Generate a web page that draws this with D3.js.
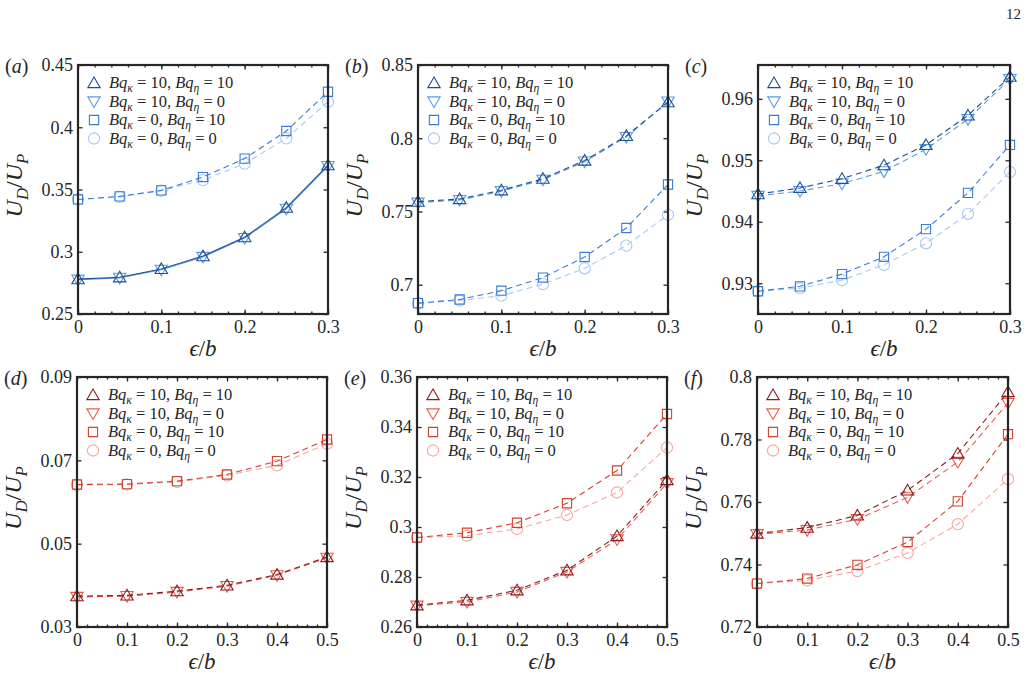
<!DOCTYPE html>
<html>
<head>
<meta charset="utf-8">
<script src="https://cdn.jsdelivr.net/npm/d3@7"></script>
</head>
<body style="margin:0">
<svg id="canvas" width="1028" height="685"></svg>
<script>
// x values (eps/b)
const xTop = [0, 0.05, 0.1, 0.15, 0.2, 0.25, 0.3];
const xBottom = [0, 0.1, 0.2, 0.3, 0.4, 0.5];
const xTicksTop = [0, 0.1, 0.2, 0.3];
const xTicksBottom = [0, 0.1, 0.2, 0.3, 0.4, 0.5];

// series order: [Bqk=10,Bqe=10], [Bqk=10,Bqe=0], [Bqk=0,Bqe=10], [Bqk=0,Bqe=0]
const aUp = [0.278, 0.2795, 0.2862, 0.2965, 0.3117, 0.3354, 0.3695];
const aDown = [0.2775, 0.2790, 0.2855, 0.2958, 0.3110, 0.3345, 0.3688];
const aSquare = [0.342, 0.3445, 0.3493, 0.360, 0.3748, 0.397, 0.4285];
const aCircle = [0.342, 0.344, 0.349, 0.3575, 0.3708, 0.391, 0.4205];

const bUp = [0.7567, 0.7585, 0.7645, 0.7724, 0.7848, 0.8016, 0.8246];
const bDown = [0.7560, 0.7578, 0.7638, 0.7716, 0.7840, 0.8008, 0.8250];
const bSquare = [0.6874, 0.6899, 0.6959, 0.7049, 0.7189, 0.7387, 0.7684];
const bCircle = [0.6872, 0.6892, 0.6925, 0.7004, 0.7112, 0.7267, 0.7477];

const cUp = [0.9445, 0.9455, 0.9470, 0.9492, 0.9525, 0.9573, 0.9636];
const cDown = [0.9442, 0.9450, 0.9462, 0.9482, 0.9518, 0.9567, 0.9632];
const cSquare = [0.9287, 0.9295, 0.9315, 0.9343, 0.9388, 0.9447, 0.9525];
const cCircle = [0.9287, 0.9292, 0.9305, 0.9330, 0.9365, 0.9413, 0.9481];

const dUp = [0.0374, 0.0376, 0.0386, 0.0400, 0.0426, 0.0468];
const dDown = [0.0372, 0.0374, 0.0384, 0.0398, 0.0424, 0.0466];
const dSquare = [0.0642, 0.0643, 0.0650, 0.0666, 0.0698, 0.0750];
const dCircle = [0.0641, 0.0642, 0.0648, 0.0664, 0.0688, 0.0740];

const eUp = [0.2687, 0.2707, 0.2747, 0.2827, 0.2964, 0.3188];
const eDown = [0.2685, 0.2700, 0.2740, 0.2820, 0.2950, 0.3175];
const eSquare = [0.2958, 0.2977, 0.3017, 0.3095, 0.3226, 0.3452];
const eCircle = [0.2958, 0.2965, 0.2992, 0.3048, 0.3138, 0.3318];

const fUp = [0.7499, 0.7518, 0.7557, 0.7637, 0.7755, 0.7952];
const fDown = [0.7497, 0.7510, 0.7545, 0.7615, 0.7728, 0.7917];
const fSquare = [0.7339, 0.7355, 0.7399, 0.7472, 0.7602, 0.7817];
const fCircle = [0.7339, 0.7349, 0.7379, 0.7437, 0.7529, 0.7673];

const yTicksA = [0.25, 0.3, 0.35, 0.4, 0.45];
const yTicksB = [0.7, 0.75, 0.8, 0.85];
const yTicksC = [0.93, 0.94, 0.95, 0.96];
const yTicksD = [0.03, 0.05, 0.07, 0.09];
const yTicksE = [0.26, 0.28, 0.3, 0.32, 0.34, 0.36];
const yTicksF = [0.72, 0.74, 0.76, 0.78, 0.8];

const legendLabels = [["10", "10"], ["10", "0"], ["0", "10"], ["0", "0"]];
const shapes = ["up", "down", "square", "circle"];
const blues = ["#1f4f91", "#5c9ce6", "#3a7bd5", "#a9c9f2"];
const reds = ["#8c1d1d", "#eb5d50", "#d2422f", "#f5a89f"];

const INK = "#262626";
const SERIF = "Liberation Serif";

const panels = [
    {label: "a", xs: xTop, xTicks: xTicksTop, xDomain: [0, 0.3], yDomain: [0.25, 0.45], yTicks: yTicksA,
     series: [aUp, aDown, aSquare, aCircle], colors: blues, dashed: [false, false, true, true],
     left: 78, right: 328, top: 65, bottom: 314},
    {label: "b", xs: xTop, xTicks: xTicksTop, xDomain: [0, 0.3], yDomain: [0.68, 0.85], yTicks: yTicksB,
     series: [bUp, bDown, bSquare, bCircle], colors: blues, dashed: [true, true, true, true],
     left: 418, right: 668, top: 65, bottom: 314},
    {label: "c", xs: xTop, xTicks: xTicksTop, xDomain: [0, 0.3], yDomain: [0.925, 0.9655], yTicks: yTicksC,
     series: [cUp, cDown, cSquare, cCircle], colors: blues, dashed: [true, true, true, true],
     left: 758, right: 1010, top: 65, bottom: 314},
    {label: "d", xs: xBottom, xTicks: xTicksBottom, xDomain: [0, 0.5], yDomain: [0.03, 0.09], yTicks: yTicksD,
     series: [dUp, dDown, dSquare, dCircle], colors: reds, dashed: [true, true, true, true],
     left: 77, right: 327, top: 377, bottom: 627},
    {label: "e", xs: xBottom, xTicks: xTicksBottom, xDomain: [0, 0.5], yDomain: [0.26, 0.36], yTicks: yTicksE,
     series: [eUp, eDown, eSquare, eCircle], colors: reds, dashed: [true, true, true, true],
     left: 417, right: 667, top: 377, bottom: 627},
    {label: "f", xs: xBottom, xTicks: xTicksBottom, xDomain: [0, 0.5], yDomain: [0.72, 0.8], yTicks: yTicksF,
     series: [fUp, fDown, fSquare, fCircle], colors: reds, dashed: [true, true, true, true],
     left: 757, right: 1008, top: 377, bottom: 627}
];

/**
 * Marker outline for a given shape, centred on the origin.
 */
function markerPath(shape) {
    if (shape === "up") return "M0,-6L6.2,4.6L-6.2,4.6Z";
    if (shape === "down") return "M0,6L6.2,-4.6L-6.2,-4.6Z";
    if (shape === "square") return "M-4.6,-4.6H4.6V4.6H-4.6Z";
    return d3.symbol(d3.symbolCircle, Math.PI * 5.6 * 5.6)();
}

/**
 * Writes a small math string into a text element, parts = [[text, italic, sub], ...]
 */
function writeMath(text, parts, size) {
    let shifted = false;
    text.attr("font-family", SERIF).style("font-family", SERIF).attr("fill", INK).attr("font-size", size);
    parts.forEach(([t, italic, sub]) => {
        const span = text.append("tspan")
            .text(t)
            .attr("font-family", SERIF)
            .style("font-family", SERIF)
            .attr("font-style", italic ? "italic" : "normal")
            .attr("font-size", sub ? size * 0.7 : size);
        if (sub && !shifted) { span.attr("dy", size * 0.25); shifted = true; }
        else if (!sub && shifted) { span.attr("dy", -size * 0.25); shifted = false; }
    });
}

function minorTicks(domain) {
    return d3.range(Math.round(domain[0] / 0.02), Math.round(domain[1] / 0.02) + 1).map(i => i * 0.02);
}

function drawPanel(p) {
    const svg = d3.select("#canvas");
    const g = svg.append("g");
    const x = d3.scaleLinear().domain(p.xDomain).range([p.left, p.right]);
    const y = d3.scaleLinear().domain(p.yDomain).range([p.bottom, p.top]);
    const fmt = d3.format("~g");

    // minor x ticks (bottom and top)
    g.append("g").attr("transform", `translate(0,${p.bottom})`)
        .call(d3.axisBottom(x).tickValues(minorTicks(p.xDomain)).tickFormat("").tickSizeInner(-2.5).tickSizeOuter(0));
    g.append("g").attr("transform", `translate(0,${p.top})`)
        .call(d3.axisTop(x).tickValues(minorTicks(p.xDomain)).tickFormat("").tickSizeInner(-2.5).tickSizeOuter(0));

    // major axes
    g.append("g").attr("class", "x-axis").attr("transform", `translate(0,${p.bottom})`)
        .call(d3.axisBottom(x).tickValues(p.xTicks).tickFormat(fmt).tickSizeInner(-4.5).tickSizeOuter(0).tickPadding(6));
    g.append("g").attr("transform", `translate(0,${p.top})`)
        .call(d3.axisTop(x).tickValues(p.xTicks).tickFormat("").tickSizeInner(-4.5).tickSizeOuter(0));
    g.append("g").attr("class", "y-axis").attr("transform", `translate(${p.left},0)`)
        .call(d3.axisLeft(y).tickValues(p.yTicks).tickFormat(fmt).tickSizeInner(-4.5).tickSizeOuter(0).tickPadding(5));
    g.append("g").attr("transform", `translate(${p.right},0)`)
        .call(d3.axisRight(y).tickValues(p.yTicks).tickFormat("").tickSizeInner(-4.5).tickSizeOuter(0));

    g.selectAll(".domain").remove();
    g.selectAll("g").attr("font-family", SERIF);
    g.selectAll(".tick line").attr("stroke", INK).attr("stroke-width", 1.3);
    g.selectAll(".tick text")
        .attr("font-family", SERIF)
        .style("font-family", SERIF)
        .attr("font-size", 18)
        .attr("fill", INK);

    // series: draw lightest first so the dark triangles sit on top
    [3, 2, 1, 0].forEach(k => {
        const values = p.series[k];
        const line = d3.line()
            .x((d, i) => x(p.xs[i]))
            .y(d => y(d));
        g.append("path")
            .datum(values)
            .attr("d", line)
            .attr("fill", "none")
            .attr("stroke", p.colors[k])
            .attr("stroke-width", 1.1)
            .attr("stroke-dasharray", p.dashed[k] ? "6,4" : null);
        g.selectAll(".m" + k)
            .data(values)
            .enter()
            .append("path")
            .attr("class", "m" + k)
            .attr("d", markerPath(shapes[k]))
            .attr("transform", (d, i) => `translate(${x(p.xs[i])},${y(d)})`)
            .attr("fill", "none")
            .attr("stroke", p.colors[k])
            .attr("stroke-width", 1.1);
    });

    // frame
    g.append("rect")
        .attr("x", p.left).attr("y", p.top)
        .attr("width", p.right - p.left).attr("height", p.bottom - p.top)
        .attr("fill", "none").attr("stroke", INK).attr("stroke-width", 2.2);

    // legend
    legendLabels.forEach((lab, k) => {
        const ly = p.top + 18 + k * 18.5;
        g.append("path")
            .attr("d", markerPath(shapes[k]))
            .attr("transform", `translate(${p.left + 16},${ly})`)
            .attr("fill", "none")
            .attr("stroke", p.colors[k])
            .attr("stroke-width", 1.1);
        const t = g.append("text")
            .attr("x", p.left + 31)
            .attr("y", ly + 5);
        writeMath(t, [["Bq", true], ["κ", true, true], [" = " + lab[0] + ", ", false],
                      ["Bq", true], ["η", true, true], [" = " + lab[1], false]], 16.5);
    });

    // panel tag
    const tag = g.append("text")
        .attr("x", p.left - 73)
        .attr("y", p.top + 8);
    writeMath(tag, [["(", false], [p.label, true], [")", false]], 20);

    // y label
    const cy = (p.top + p.bottom) / 2 - 4;
    const yl = g.append("text")
        .attr("transform", `translate(${p.left - 56},${cy}) rotate(-90)`)
        .attr("text-anchor", "middle");
    writeMath(yl, [["U", true], ["D", true, true], ["/", false], ["U", true], ["P", true, true]], 24);

    // x label
    const xl = g.append("text")
        .attr("x", (p.left + p.right) / 2)
        .attr("y", p.bottom + 42)
        .attr("text-anchor", "middle");
    writeMath(xl, [["ϵ", true], ["/", false], ["b", true]], 23);
}

d3.select("#canvas").attr("font-family", SERIF);
d3.select("#canvas").append("rect").attr("width", 1028).attr("height", 685).attr("fill", "#fff");
panels.forEach(drawPanel);

d3.select("#canvas").append("text")
    .attr("x", 1021).attr("y", 19)
    .attr("text-anchor", "end")
    .attr("font-family", SERIF)
    .style("font-family", SERIF)
    .attr("font-size", 15)
    .attr("fill", INK)
    .text("12");
</script>
</body>
</html>
